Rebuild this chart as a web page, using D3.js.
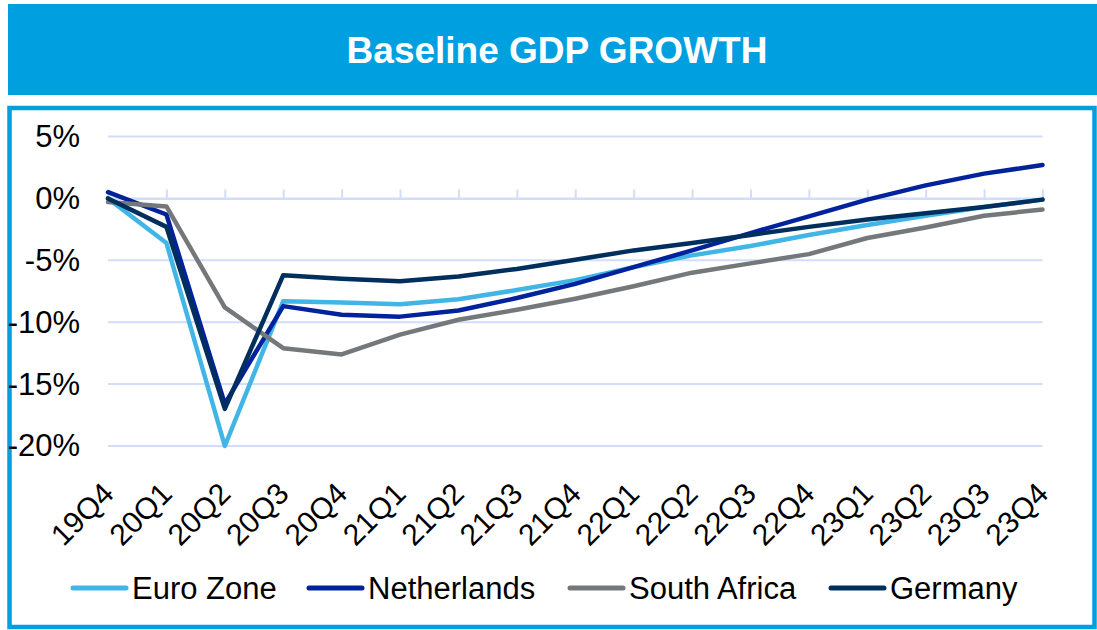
<!DOCTYPE html>
<html>
<head>
<meta charset="utf-8">
<script src="https://cdn.jsdelivr.net/npm/d3@7"></script>
<style>
  html, body { margin: 0; padding: 0; background: #fff; }
  svg { display: block; font-family: "Liberation Sans", Arial, sans-serif; }
</style>
</head>
<body>
<svg id="chart" width="1097" height="630"></svg>
<script>
// Quarterly GDP growth vs. 2019Q4 baseline (%)
const quarters = ["19Q4","20Q1","20Q2","20Q3","20Q4","21Q1","21Q2","21Q3","21Q4",
                  "22Q1","22Q2","22Q3","22Q4","23Q1","23Q2","23Q3","23Q4"];
const euroZone    = [0, -3.6, -20.0, -8.3, -8.4, -8.55, -8.15, -7.4, -6.6, -5.55, -4.6, -3.85, -2.95, -2.15, -1.4, -0.7, -0.1];
const netherlands = [0.5, -1.3, -16.6, -8.7, -9.4, -9.55, -9.05, -8.05, -6.9, -5.55, -4.2, -2.8, -1.45, -0.1, 1.05, 2.0, 2.7];
const southAfrica = [-0.3, -0.65, -8.8, -12.1, -12.6, -11.0, -9.8, -9.0, -8.1, -7.1, -6.0, -5.25, -4.5, -3.2, -2.35, -1.4, -0.9];
const germany     = [0, -2.3, -17.0, -6.2, -6.5, -6.7, -6.3, -5.7, -4.95, -4.2, -3.6, -2.95, -2.3, -1.7, -1.2, -0.7, -0.1];
const yTicks = [5, 0, -5, -10, -15, -20];

const seriesNames  = ["Euro Zone", "Netherlands", "South Africa", "Germany"];
const seriesValues = [euroZone, netherlands, southAfrica, germany];
const seriesColors = ["#41B6E6", "#00239C", "#75787B", "#002E5D"];

const svg = d3.select("#chart");
const brand = "#009FDF";
const gridColor = "#D2DDFA";

// Title banner
svg.append("rect").attr("x", 8).attr("y", 4).attr("width", 1089).attr("height", 91).attr("fill", brand);
svg.append("text")
  .attr("x", 557).attr("y", 63)
  .attr("text-anchor", "middle")
  .attr("fill", "#fff")
  .attr("font-size", 37).attr("font-weight", "bold")
  .text("Baseline GDP GROWTH");

// Framed chart panel
svg.append("rect")
  .attr("x", 9.5).attr("y", 108).attr("width", 1085).attr("height", 519)
  .attr("fill", "#fff").attr("stroke", brand).attr("stroke-width", 4.5);

const x = d3.scalePoint().domain(quarters).range([108, 1042.5]);
const y = d3.scaleLinear().domain([-20, 5]).range([446, 136.5]);

// Horizontal gridlines
svg.append("g").selectAll("line").data(yTicks).join("line")
  .attr("x1", 108).attr("x2", 1042.5)
  .attr("y1", d => y(d)).attr("y2", d => y(d))
  .attr("stroke", gridColor).attr("stroke-width", 2);

// Y axis labels
const yAxis = d3.axisLeft(y).tickValues(yTicks).tickSize(0).tickPadding(0)
  .tickFormat(d => d + "%");
svg.append("g").attr("transform", "translate(80,0)").call(yAxis)
  .call(g => g.select(".domain").remove())
  .selectAll("text")
  .attr("font-size", 31).attr("font-family", "Liberation Sans, Arial, sans-serif")
  .attr("fill", "#000");

// Category axis along the zero line, ticks pointing up
const xAxis = d3.axisTop(x).tickSize(9).tickFormat("");
svg.append("g").attr("transform", `translate(0,${y(0)})`).call(xAxis)
  .call(g => g.select(".domain").attr("stroke", gridColor).attr("stroke-width", 2))
  .call(g => g.selectAll(".tick line").attr("stroke", gridColor).attr("stroke-width", 2));

// Rotated quarter labels below the plot
svg.append("g").selectAll("text").data(quarters).join("text")
  .attr("transform", d => `translate(${x(d)},${488}) rotate(-45)`)
  .attr("text-anchor", "end")
  .attr("dy", "0.35em")
  .attr("font-size", 30)
  .attr("fill", "#000")
  .text(d => d);

// Series lines
const line = d3.line().x((d, i) => x(quarters[i])).y(d => y(d));
svg.append("g").selectAll("path").data(seriesValues).join("path")
  .attr("d", d => line(d))
  .attr("fill", "none")
  .attr("stroke", (d, i) => seriesColors[i])
  .attr("stroke-width", 4.5)
  .attr("stroke-linejoin", "round")
  .attr("stroke-linecap", "round");

// Legend
const legendX = [73, 309, 570, 831];
const legend = svg.append("g").selectAll("g").data(seriesNames).join("g")
  .attr("transform", (d, i) => `translate(${legendX[i]},588)`);
legend.append("line")
  .attr("x1", 0).attr("x2", 53).attr("y1", 0).attr("y2", 0)
  .attr("stroke", (d, i) => seriesColors[i])
  .attr("stroke-width", 5).attr("stroke-linecap", "round");
legend.append("text")
  .attr("x", 59).attr("y", 10.5)
  .attr("font-size", 31).attr("fill", "#000")
  .text(d => d);
</script>
</body>
</html>
